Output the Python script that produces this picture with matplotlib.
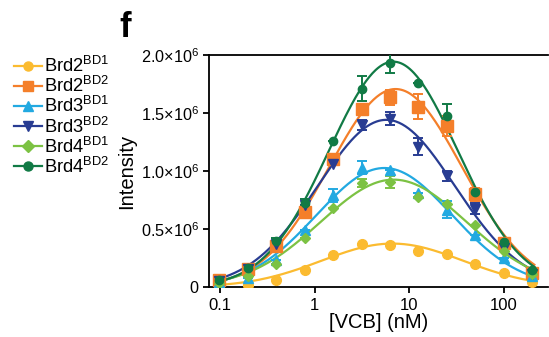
import numpy as np
import matplotlib
matplotlib.use("Agg")
import matplotlib.pyplot as plt
import matplotlib.lines as mlines

plt.rcParams['font.family'] = ['Liberation Sans', 'DejaVu Sans']
plt.rcParams['mathtext.default'] = 'regular'

# VCB titration, 2-fold dilutions (nM)
conc = 200 / 2.0 ** np.arange(11, -1, -1)

names = ['Brd2', 'Brd2', 'Brd3', 'Brd3', 'Brd4', 'Brd4']
domains = ['BD1', 'BD2', 'BD1', 'BD2', 'BD1', 'BD2']
colors = ['#FBBB30', '#F47F2A', '#22A9E1', '#283C92', '#7CC243', '#117A45']
markers = ['o', 's', '^', 'v', 'D', 'o']
msizes = [7, 8, 7.5, 7.5, 5.5, 6]

# intensities in units of 1e6
brd2_bd1 = [0.006, 0.02, 0.063, 0.15, 0.28, 0.374, 0.36, 0.31, 0.282, 0.20, 0.124, 0.043]
brd2_bd2 = [0.063, 0.158, 0.354, 0.648, 1.10, 1.534, 1.635, 1.554, 1.39, 0.80, 0.38, 0.121]
brd3_bd1 = [0.043, 0.08, 0.236, 0.495, 0.79, 1.03, 1.013, 0.81, 0.668, 0.446, 0.253, 0.092]
brd3_bd2 = [0.05, 0.155, 0.37, 0.705, 1.06, 1.396, 1.45, 1.21, 0.955, 0.676, 0.34, 0.115]
brd4_bd1 = [0.035, 0.092, 0.20, 0.423, 0.685, 0.898, 0.906, 0.777, 0.72, 0.538, 0.31, 0.115]
brd4_bd2 = [0.058, 0.164, 0.40, 0.725, 1.26, 1.71, 1.93, 1.755, 1.47, 0.82, 0.39, 0.144]

err2_bd1 = [0, 0, 0, 0, 0, 0, 0, 0, 0, 0, 0, 0]
err2_bd2 = [0.01, 0, 0, 0.02, 0.03, 0.02, 0.065, 0.11, 0.085, 0.055, 0, 0]
err3_bd1 = [0.01, 0, 0, 0, 0.058, 0.055, 0, 0, 0.075, 0, 0, 0]
err3_bd2 = [0, 0, 0, 0, 0, 0.04, 0.055, 0.075, 0.045, 0.05, 0, 0]
err4_bd1 = [0, 0, 0, 0, 0, 0.036, 0.05, 0, 0, 0, 0, 0]
err4_bd2 = [0, 0, 0.02, 0.03, 0, 0.11, 0.086, 0, 0.11, 0, 0, 0]

series = [brd2_bd1, brd2_bd2, brd3_bd1, brd3_bd2, brd4_bd1, brd4_bd2]
errors = [err2_bd1, err2_bd2, err3_bd1, err3_bd2, err4_bd1, err4_bd2]

fig = plt.figure(figsize=(5.49, 3.37), dpi=100)
ax = fig.add_axes([0.381, 0.148, 0.617, 0.689])

lx = np.log10(conc)
xs = np.logspace(np.log10(0.09), np.log10(210), 300)
for y, e, c, m, ms in zip(series, errors, colors, markers, msizes):
    y = np.array(y) * 1e6
    e = np.array(e) * 1e6
    # gaussian in log-concentration, weighted log-quadratic fit
    p = np.polyfit(lx, np.log(y), 2, w=y / y.max())
    ax.plot(xs, np.exp(np.polyval(p, np.log10(xs))), color=c, lw=1.6, zorder=2)
    ax.errorbar(conc, y, yerr=e, fmt=m, color=c, ms=ms, capsize=3.5,
                elinewidth=1.4, capthick=1.4, zorder=3)

ax.set_xscale('log')
ax.set_xlim(0.0766, 292)
ax.set_ylim(0, 2.0e6)
ax.set_xticks([0.1, 1, 10, 100])
ax.set_xticklabels(['0.1', '1', '10', '100'])
ax.xaxis.set_minor_locator(matplotlib.ticker.NullLocator())
ax.set_yticks([0, 0.5e6, 1.0e6, 1.5e6, 2.0e6])
ax.set_yticklabels(['0', '0.5×10$^{6}$', '1.0×10$^{6}$', '1.5×10$^{6}$', '2.0×10$^{6}$'])
ax.tick_params(axis='x', labelsize=12, width=1.3, length=4)
ax.tick_params(axis='y', labelsize=11.7, width=1.3, length=4)
for s in ['left', 'bottom', 'top']:
    ax.spines[s].set_linewidth(1.3)
ax.spines['right'].set_visible(False)
ax.set_xlabel('[VCB] (nM)', fontsize=14.5, labelpad=0)
ax.set_ylabel('Intensity', fontsize=14.5, labelpad=3)

fig.text(0.218, 0.89, 'f', fontsize=25, fontweight='bold')

handles = []
for n, d, c, m in zip(names, domains, colors, markers):
    handles.append(mlines.Line2D([], [], color=c, marker=m, ms=6.5, lw=1.6,
                                 label=n + '$^{' + d + '}$'))
fig.legend(handles=handles, loc='upper left', bbox_to_anchor=(0.012, 0.855),
           frameon=False, fontsize=13.2, handlelength=1.55, handletextpad=0.1,
           labelspacing=0.0, borderaxespad=0)

fig.savefig('out.png', dpi=100)
